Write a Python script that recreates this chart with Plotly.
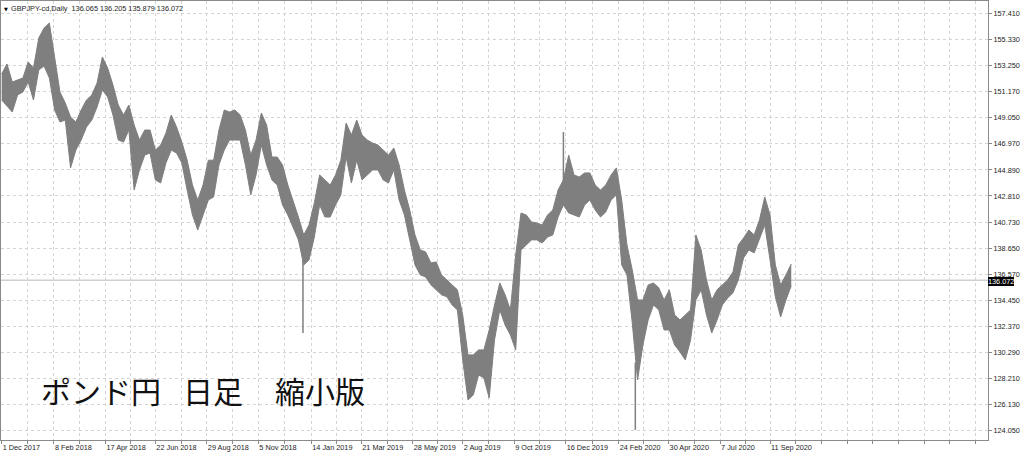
import pandas as pd
import plotly.graph_objects as go

# ---------------- data ----------------
symbol = "GBPJPY-cd,Daily"
last_ohlc = [136.065, 136.205, 135.879, 136.072]
last_close = 136.072

week_start = "2017-12-01"   # one sample per week
weekly_high = [
    152.56, 153.36, 151.92, 152.08, 152.24, 153.52, 153.04, 155.43, 156.23, 156.63,
    153.68, 151.12, 150.24, 149.12, 148.72, 149.68, 150.48, 150.88, 151.84, 153.92,
    153.04, 151.68, 150.08, 149.28, 150.08, 148.48, 147.28, 148.08, 148.08, 146.48,
    146.88, 147.84, 149.28, 148.32, 147.12, 145.67, 143.69, 142.49, 143.69, 145.67,
    145.67, 148.08, 149.68, 149.52, 149.68, 149.28, 148.08, 146.08, 147.28, 149.44,
    148.48, 145.92, 145.92, 145.29, 143.69, 142.49, 141.13, 139.69, 140.49, 142.25,
    144.49, 144.09, 143.69, 144.49, 145.67, 148.64, 147.68, 148.88, 147.68, 147.28,
    147.04, 146.88, 146.48, 146.08, 146.64, 145.29, 143.29, 141.69, 139.69, 138.50,
    138.34, 137.46, 137.54, 136.50, 136.10, 135.70, 135.31, 133.30, 130.11, 130.11,
    130.51, 130.51, 132.10, 134.10, 135.86, 134.91, 133.70, 138.10, 141.45, 141.29,
    140.73, 140.65, 140.49, 141.29, 141.69, 143.29, 144.09, 146.08, 144.49, 144.33,
    144.65, 144.65, 143.69, 143.29, 143.69, 144.49, 145.05, 142.49, 138.89, 136.90,
    134.50, 134.50, 135.70, 135.86, 135.47, 134.50, 135.31, 133.30, 132.90, 133.30,
    133.70, 139.69, 138.50, 136.10, 134.50, 135.31, 135.70, 136.10, 136.73, 138.89,
    139.45, 140.09, 139.69, 140.89, 142.73, 141.29, 137.30, 135.70, 136.50, 137.38,
]
weekly_low = [
    150.48, 150.00, 149.52, 150.88, 151.12, 151.92, 150.48, 152.88, 153.20, 152.24,
    149.68, 148.72, 148.88, 145.05, 146.48, 147.28, 148.32, 148.88, 149.92, 151.28,
    150.72, 149.28, 147.28, 147.12, 148.08, 143.29, 144.89, 146.08, 146.24, 144.09,
    143.85, 145.45, 146.48, 146.24, 145.45, 143.29, 141.29, 140.09, 141.29, 142.49,
    142.73, 145.29, 146.48, 147.28, 147.28, 147.28, 145.29, 142.89, 144.49, 146.88,
    145.29, 144.09, 143.69, 142.09, 141.29, 140.25, 139.30, 137.30, 137.70, 139.53,
    142.09, 141.13, 141.13, 142.09, 142.89, 145.92, 143.85, 145.67, 144.09, 144.49,
    144.89, 144.89, 144.09, 143.85, 144.89, 142.49, 141.29, 139.30, 137.30, 136.50,
    136.34, 135.71, 135.31, 134.91, 134.75, 134.10, 133.70, 129.71, 126.51, 126.91,
    128.51, 128.27, 126.67, 131.30, 133.70, 132.50, 131.70, 130.51, 138.50, 138.89,
    139.30, 139.30, 139.05, 139.53, 139.69, 141.13, 142.09, 141.45, 141.29, 141.13,
    142.09, 142.49, 141.69, 141.13, 141.53, 142.49, 142.89, 137.30, 136.50, 132.66,
    128.11, 130.90, 132.90, 134.10, 133.70, 132.10, 132.10, 130.90, 130.35, 129.71,
    131.30, 134.50, 135.31, 133.30, 131.86, 132.90, 134.10, 134.66, 135.07, 136.10,
    137.86, 138.50, 138.26, 139.30, 140.49, 137.70, 134.75, 133.14, 134.50, 135.63,
]

# single-day extremes that stick out of the weekly band
spike_dates = ["2019-01-03", "2019-12-13", "2020-03-17"]
spike_high = [137.70, 147.92, 129.50]
spike_low = [131.86, 144.00, 124.11]

date_labels = ["1 Dec 2017", "8 Feb 2018", "17 Apr 2018", "22 Jun 2018", "29 Aug 2018",
               "5 Nov 2018", "14 Jan 2019", "21 Mar 2019", "28 May 2019", "2 Aug 2019",
               "9 Oct 2019", "16 Dec 2019", "24 Feb 2020", "30 Apr 2020", "7 Jul 2020",
               "11 Sep 2020"]
label_dates = ["2017-12-01", "2018-02-08", "2018-04-17", "2018-06-22", "2018-08-29",
               "2018-11-05", "2019-01-14", "2019-03-21", "2019-05-28", "2019-08-02",
               "2019-10-09", "2019-12-16", "2020-02-24", "2020-04-30", "2020-07-07",
               "2020-09-11"]
price_ticks = [157.410, 155.330, 153.250, 151.170, 149.050, 146.970, 144.890, 142.810,
               140.730, 138.650, 136.570, 134.450, 132.370, 130.290, 128.210, 126.130,
               124.050]

title_text = ["ポンド円", "日足", "縮小版"]

# ---------------- styling ----------------
BAR = "#7f7f7f"
GRID = "#d4d4d4"
AXIS = "#8a8a8a"
TXT = "#1e1e1e"
FONT = "Liberation Sans"
FS = 7.3

weeks = pd.date_range(week_start, periods=len(weekly_high), freq="7D")

fig = go.Figure()
fig.add_trace(go.Scatter(x=weeks, y=weekly_low, mode="lines",
                         line=dict(color=BAR, width=1), hoverinfo="skip", showlegend=False))
fig.add_trace(go.Scatter(x=weeks, y=weekly_high, mode="lines", fill="tonexty",
                         fillcolor=BAR, line=dict(color=BAR, width=1), showlegend=False))
sx, sy = [], []
for d, h, l in zip(spike_dates, spike_high, spike_low):
    sx += [d, d, None]
    sy += [h, l, None]
fig.add_trace(go.Scatter(x=sx, y=sy, mode="lines", line=dict(color=BAR, width=1.5),
                         showlegend=False))

# x axis: grid every half label interval, labels left-aligned at ticks
lab = [pd.Timestamp(d) for d in label_dates]
x0 = pd.Timestamp("2017-12-01") - pd.Timedelta(days=0.9)
x1 = x0 + pd.Timedelta(days=1303.8)
grid, gtext = [], []
for i, t in enumerate(lab):
    grid.append(t)
    gtext.append(date_labels[i])
    if i + 1 < len(lab):
        grid.append(t + (lab[i + 1] - t) / 2)
        gtext.append("")
step = pd.Timedelta(days=33.9)
t = lab[-1] + step
while t < x1:
    grid.append(t)
    gtext.append("")
    t += step

fig.add_shape(type="line", xref="paper", x0=0, x1=1, yref="y", y0=last_close, y1=last_close,
              line=dict(color="#cfcfcf", width=1.5), layer="below")

fig.update_layout(
    width=1024, height=454,
    margin=dict(l=1, r=36, t=1, b=14),
    paper_bgcolor="white", plot_bgcolor="white",
    showlegend=False,
    xaxis=dict(type="date", range=[x0, x1], tickvals=grid, ticktext=gtext,
               ticklabelposition="outside right", ticks="outside", ticklen=3,
               tickcolor=AXIS, showgrid=True, gridcolor=GRID, griddash="dot", gridwidth=1,
               showline=True, linecolor=AXIS, linewidth=1, mirror=True, zeroline=False,
               tickfont=dict(family=FONT, size=FS, color=TXT)),
    yaxis=dict(range=[123.307, 158.393], side="right", tickvals=price_ticks,
               ticktext=[f"{v:.3f}" for v in price_ticks], ticks="outside", ticklen=3,
               tickcolor=AXIS, showgrid=True, gridcolor=GRID, griddash="dot", gridwidth=1,
               showline=True, linecolor=AXIS, linewidth=1, mirror=True, zeroline=False,
               tickfont=dict(family=FONT, size=FS, color=TXT)),
)

ann = [
    dict(x=0, y=1, xref="paper", yref="paper", xanchor="left", yanchor="top",
         xshift=1, yshift=-3, text="▼", showarrow=False,
         font=dict(family="DejaVu Sans", size=5, color="#000")),
    dict(x=0, y=1, xref="paper", yref="paper", xanchor="left", yanchor="top",
         xshift=8, yshift=-1,
         text=symbol + "\u00a0\u00a0" + " ".join(f"{v:.3f}" for v in last_ohlc),
         showarrow=False, font=dict(family=FONT, size=FS, color=TXT)),
    dict(x=1, y=last_close, xref="paper", yref="y", xanchor="left", yanchor="middle",
         xshift=0, yshift=-1, text=f"{last_close:.3f}", showarrow=False, bgcolor="#000000",
         borderpad=0, borderwidth=0, font=dict(family=FONT, size=FS, color="#ffffff")),
]
jp_x = [38, 180, 272]
for txt, xs in zip(title_text, jp_x):
    ann.append(dict(x=0, y=0.113, xref="paper", yref="paper", xanchor="left", yanchor="middle",
                    xshift=xs, text=txt, showarrow=False,
                    font=dict(family="Noto Sans CJK JP", size=30, color="#111")))
fig.update_layout(annotations=ann)

fig.write_html("out.html", config={"displayModeBar": False},
               post_script="document.body.style.margin='0';")
